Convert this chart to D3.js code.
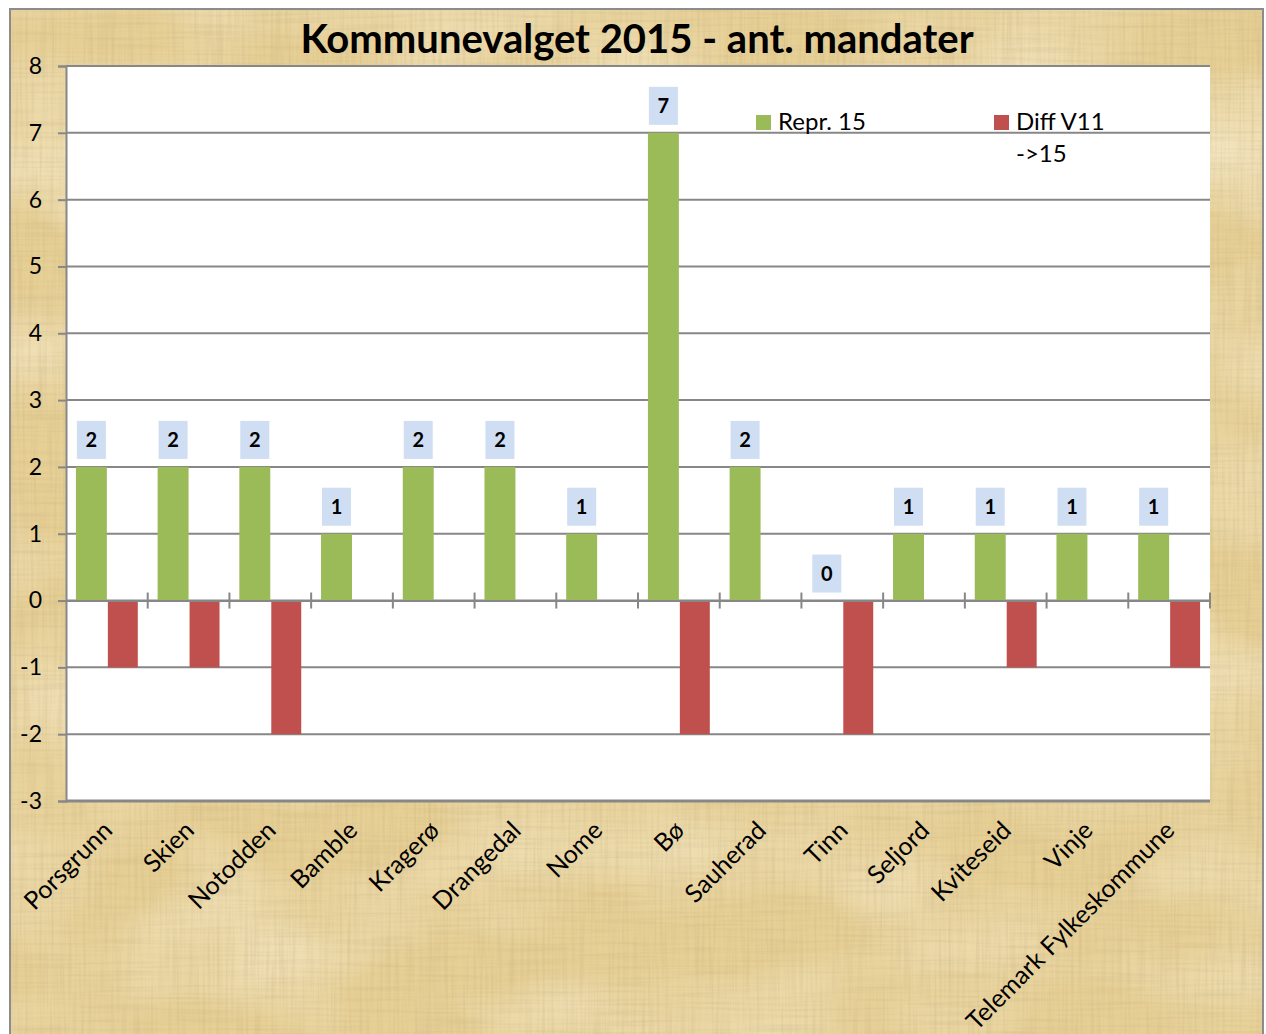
<!DOCTYPE html>
<html>
<head>
  <title>Kommunevalget 2015</title>
  <script src="https://d3js.org/d3.v7.min.js"></script>
  <style>
    html, body {
      margin: 0;
      padding: 0;
      background: #fff;
      overflow: hidden;
    }
    svg text {
      font-family: Lato, "Open Sans", sans-serif;
    }
  </style>
</head>
<body>
  <svg id="chart"></svg>
  <script>
    // data
    const kommuner = ["Porsgrunn", "Skien", "Notodden", "Bamble", "Kragerø", "Drangedal", "Nome",
      "Bø", "Sauherad", "Tinn", "Seljord", "Kviteseid", "Vinje", "Telemark Fylkeskommune"];
    const repr15 = [2, 2, 2, 1, 2, 2, 1, 7, 2, 0, 1, 1, 1, 1];
    const diffV11 = [-1, -1, -2, 0, 0, 0, 0, -2, 0, -2, 0, -1, 0, -1];
    const seriesNames = ["Repr. 15", "Diff V11 ->15"];
    const yTicks = [-3, -2, -1, 0, 1, 2, 3, 4, 5, 6, 7, 8];

    const width = 1266, height = 1034;
    const plot = {left: 66, right: 1210, top: 66, bottom: 801};
    const green = "#9bbb59", red = "#c0504d", gridColor = "#878787";

    const svg = d3.select("#chart").attr("width", width).attr("height", height);

    // papyrus-ish background texture
    const defs = svg.append("defs");
    const f = defs.append("filter").attr("id", "papyrus")
      .attr("x", 0).attr("y", 0).attr("width", 1).attr("height", 1);
    f.append("feTurbulence").attr("type", "fractalNoise")
      .attr("baseFrequency", "0.35 0.012").attr("numOctaves", 2).attr("seed", 4).attr("result", "v");
    f.append("feColorMatrix").attr("in", "v").attr("type", "matrix")
      .attr("values", "0 0 0 0 0.62  0 0 0 0 0.48  0 0 0 0 0.22  0.9 0 0 0 -0.36").attr("result", "vc");
    f.append("feTurbulence").attr("type", "fractalNoise")
      .attr("baseFrequency", "0.012 0.35").attr("numOctaves", 2).attr("seed", 9).attr("result", "h");
    f.append("feColorMatrix").attr("in", "h").attr("type", "matrix")
      .attr("values", "0 0 0 0 0.62  0 0 0 0 0.48  0 0 0 0 0.22  0.8 0 0 0 -0.34").attr("result", "hc");
    f.append("feTurbulence").attr("type", "fractalNoise")
      .attr("baseFrequency", "0.006 0.01").attr("numOctaves", 2).attr("seed", 2).attr("result", "b");
    f.append("feColorMatrix").attr("in", "b").attr("type", "matrix")
      .attr("values", "0 0 0 0 1  0 0 0 0 0.95  0 0 0 0 0.8  0.9 0 0 0 -0.35").attr("result", "bc");
    const merge = f.append("feMerge");
    merge.append("feMergeNode").attr("in", "bc");
    merge.append("feMergeNode").attr("in", "vc");
    merge.append("feMergeNode").attr("in", "hc");

    svg.append("rect").attr("x", 10).attr("y", 9).attr("width", 1253).attr("height", 1040)
      .attr("fill", "#e7d096");
    svg.append("rect").attr("x", 10).attr("y", 9).attr("width", 1253).attr("height", 1040)
      .attr("fill", "#fff").attr("filter", "url(#papyrus)");
    svg.append("rect").attr("x", 10).attr("y", 9).attr("width", 1253).attr("height", 1040)
      .attr("fill", "none").attr("stroke", "#8c8c8c").attr("stroke-width", 2);

    // scales
    const x = d3.scaleBand().domain(kommuner).range([plot.left, plot.right]).padding(0);
    const xSub = d3.scaleBand().domain([0, 1]).range([0, x.bandwidth()])
      .paddingInner(0).paddingOuter(0.32);
    const y = d3.scaleLinear().domain([-3, 8]).range([plot.bottom, plot.top]);

    // plot area
    svg.append("rect").attr("x", plot.left).attr("y", plot.top)
      .attr("width", plot.right - plot.left).attr("height", plot.bottom - plot.top)
      .attr("fill", "#fff");

    // gridlines + y axis
    const yAxis = d3.axisLeft(y).tickValues(yTicks).tickSize(8).tickPadding(16)
      .tickFormat(d => String(d));
    const gy = svg.append("g").attr("transform", `translate(${plot.left},0)`).call(yAxis);
    gy.select(".domain").attr("stroke", gridColor).attr("stroke-width", 2);
    gy.selectAll(".tick line").attr("stroke", gridColor).attr("stroke-width", 2);
    gy.selectAll(".tick text").attr("font-size", 23).attr("fill", "#000")
      .style("font-family", "Lato, sans-serif");

    svg.append("g").selectAll("line").data(yTicks).join("line")
      .attr("x1", plot.left).attr("x2", plot.right)
      .attr("y1", d => y(d)).attr("y2", d => y(d))
      .attr("stroke", gridColor).attr("stroke-width", 2);

    // bars
    const barG = svg.append("g");
    barG.selectAll(".repr").data(repr15).join("rect").attr("class", "repr")
      .attr("x", (d, i) => x(kommuner[i]) + xSub(0))
      .attr("width", xSub.bandwidth())
      .attr("y", d => y(Math.max(0, d)))
      .attr("height", d => Math.abs(y(d) - y(0)))
      .attr("fill", green);
    barG.selectAll(".diff").data(diffV11).join("rect").attr("class", "diff")
      .attr("x", (d, i) => x(kommuner[i]) + xSub(1) + 1)
      .attr("width", xSub.bandwidth() - 1)
      .attr("y", d => y(Math.max(0, d)))
      .attr("height", d => Math.abs(y(d) - y(0)))
      .attr("fill", red);

    // x axis on zero line
    const xAxis = d3.axisBottom(x).tickSize(0).tickFormat("");
    const gx = svg.append("g").attr("transform", `translate(0,${y(0)})`).call(xAxis);
    gx.select(".domain").attr("stroke", gridColor).attr("stroke-width", 2);
    gx.selectAll(".tick").remove();
    gx.selectAll(".cat-tick").data(kommuner.slice(1).concat(["__end"])).join("line")
      .attr("class", "cat-tick")
      .attr("x1", d => d === "__end" ? plot.right : x(d))
      .attr("x2", d => d === "__end" ? plot.right : x(d))
      .attr("y1", -8).attr("y2", 8)
      .attr("stroke", gridColor).attr("stroke-width", 2);

    // plot area border (bottom line)
    svg.append("line").attr("x1", plot.left).attr("x2", plot.right)
      .attr("y1", plot.bottom).attr("y2", plot.bottom)
      .attr("stroke", gridColor).attr("stroke-width", 3);

    // data labels
    const lab = svg.append("g").selectAll("g").data(repr15).join("g")
      .attr("transform", (d, i) => `translate(${x(kommuner[i]) + xSub(0) + xSub.bandwidth() / 2},${y(d) - 8})`);
    lab.append("rect").attr("x", -14.5).attr("y", -38).attr("width", 29).attr("height", 38)
      .attr("fill", "#cfdef3");
    lab.append("text").attr("text-anchor", "middle").attr("y", -12)
      .attr("font-size", 20).attr("font-weight", "bold").attr("fill", "#000")
      .text(d => d);

    // category labels
    svg.append("g").selectAll("text").data(kommuner).join("text")
      .attr("transform", d => `translate(${x(d) + x.bandwidth() / 2 + 7},${plot.bottom + 31}) rotate(-45)`)
      .attr("text-anchor", "end")
      .attr("font-size", 25).attr("fill", "#000")
      .text(d => d);

    // title
    svg.append("text").attr("x", 637).attr("y", 53).attr("text-anchor", "middle")
      .attr("font-size", 40).attr("font-weight", "bold").attr("fill", "#000")
      .text("Kommunevalget 2015 - ant. mandater");

    // legend
    const leg = svg.append("g");
    const legItems = [
      {name: seriesNames[0], color: green, x: 756},
      {name: seriesNames[1], color: red, x: 994}
    ];
    legItems.forEach(it => {
      leg.append("rect").attr("x", it.x).attr("y", 115).attr("width", 15).attr("height", 15)
        .attr("fill", it.color);
      const t = leg.append("text").attr("x", it.x + 22).attr("y", 130)
        .attr("font-size", 24).attr("fill", "#000");
      const words = it.name.split(" ");
      if (it.name.indexOf("->") >= 0) {
        t.append("tspan").attr("x", it.x + 22).attr("y", 130).text(words.slice(0, 2).join(" "));
        t.append("tspan").attr("x", it.x + 22).attr("y", 162).text(words.slice(2).join(" "));
      } else {
        t.text(it.name);
      }
    });
  </script>
</body>
</html>
